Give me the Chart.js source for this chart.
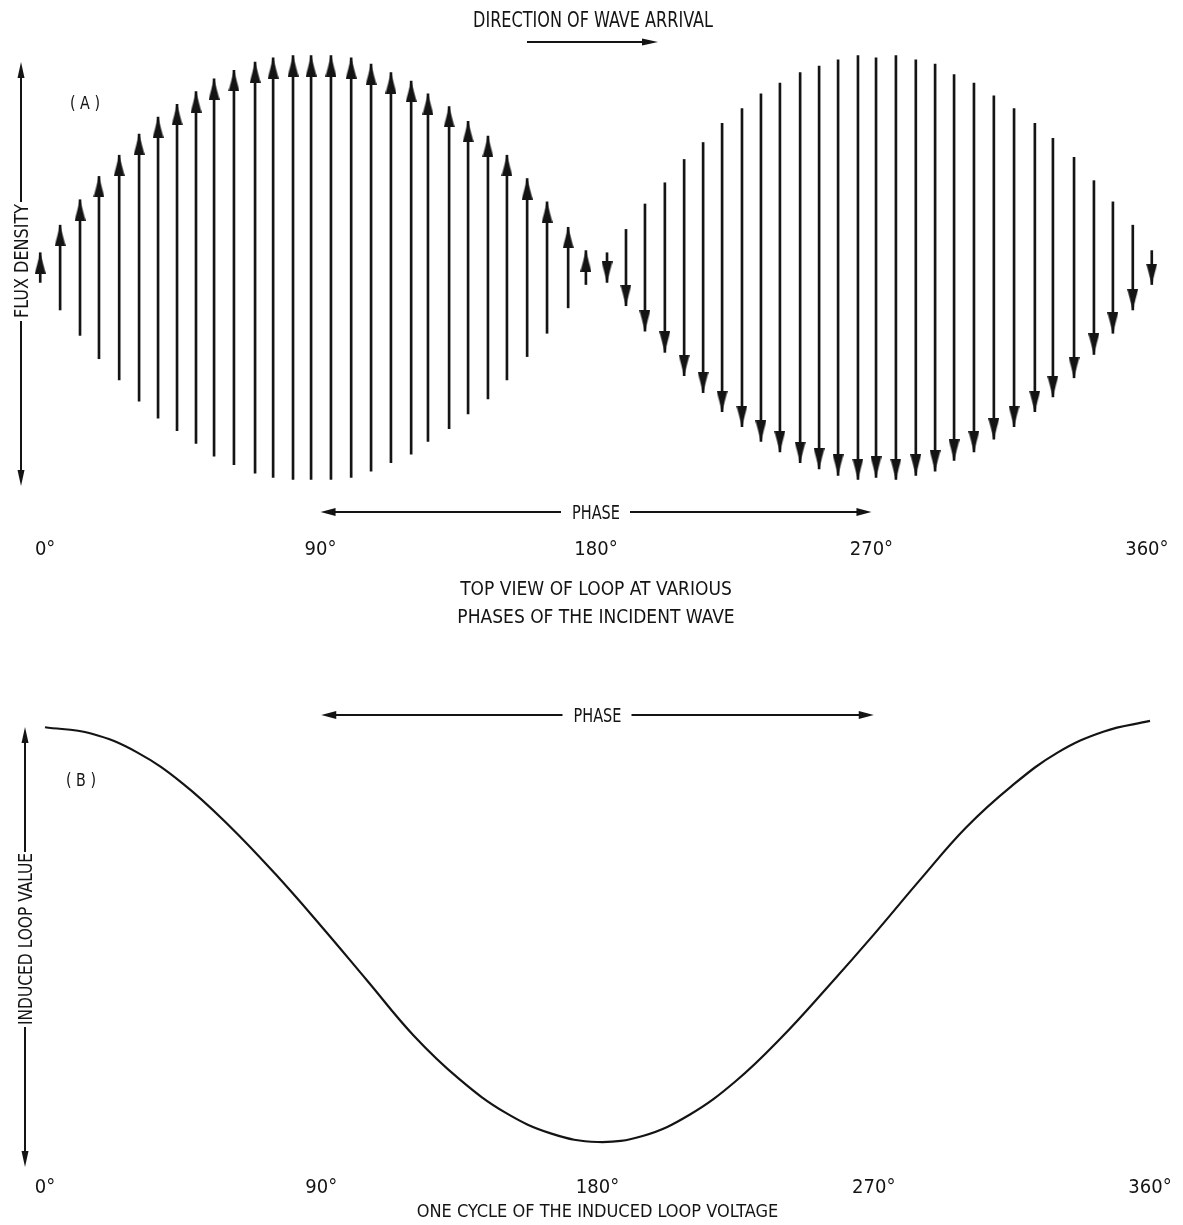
<!DOCTYPE html>
<html>
<head>
<meta charset="utf-8">
<script src="https://cdn.jsdelivr.net/npm/chart.js@4.4.1/dist/chart.umd.min.js"></script>
<style>
  html, body { margin: 0; padding: 0; background: #fff; }
  #wrap { position: relative; width: 1183px; height: 1225px; }
  canvas { position: absolute; left: 0; }
  #flux { top: 0; }
  #loop { top: 640px; }
</style>
</head>
<body>
<div id="wrap">
  <canvas id="flux" width="1183" height="640"></canvas>
  <canvas id="loop" width="1183" height="585"></canvas>
</div>
<script>
// (A) flux density arrows, phase in degrees
const arrowPhase = [-1.6, 4.9, 11.4, 17.6, 24.2, 30.7, 36.9, 43.1, 49.3, 55.2,
  61.7, 68.6, 74.5, 81.0, 86.9, 93.4, 100.0, 106.5, 113.0, 119.6,
  125.1, 132.0, 138.2, 144.7, 150.9, 157.5, 164.0, 170.9, 176.7, 183.6,
  189.8, 196.0, 202.5, 208.8, 215.0, 221.2, 227.7, 233.9, 240.1, 246.7,
  252.9, 259.1, 265.6, 271.5, 278.0, 284.5, 290.8, 297.0, 303.5, 310.0,
  316.6, 323.4, 329.3, 336.2, 342.7, 348.9, 355.4, 361.6]
const fluxDensity = [0.07, 0.20, 0.32, 0.43, 0.53, 0.63, 0.71, 0.77, 0.83, 0.89,
  0.93, 0.97, 0.99, 1.00, 1.00, 1.00, 0.99, 0.96, 0.92, 0.88,
  0.82, 0.76, 0.69, 0.62, 0.53, 0.42, 0.31, 0.19, 0.08, -0.07,
  -0.18, -0.30, -0.40, -0.51, -0.59, -0.68, -0.75, -0.82, -0.87, -0.92,
  -0.95, -0.98, -1.00, -0.99, -1.00, -0.98, -0.96, -0.91, -0.87, -0.81,
  -0.75, -0.68, -0.61, -0.52, -0.41, -0.31, -0.20, -0.08]

// (B) induced loop voltage
const loopPhase = [0, 15, 30, 45, 60, 75, 90, 105, 120, 135, 150, 165, 180,
  195, 210, 225, 240, 255, 270, 285, 300, 315, 330, 345, 360]
const loopVoltage = [0.98, 0.95, 0.86, 0.71, 0.51, 0.28, 0.03, -0.23, -0.49, -0.70, -0.86, -0.96, -1.00,
  -0.97, -0.87, -0.71, -0.50, -0.26, -0.01, 0.25, 0.50, 0.70, 0.86, 0.96, 1.01]

const degreeTicks = [0, 90, 180, 270, 360]
const captionA = ['TOP VIEW OF LOOP AT VARIOUS', 'PHASES OF THE INCIDENT WAVE']
const captionB = 'ONE CYCLE OF THE INDUCED LOOP VOLTAGE'

const INK = '#141414'
const FONT = "'Liberation Sans Narrow', 'DejaVu Sans Condensed', 'DejaVu Sans', sans-serif"

/* arrowhead used as point style, tip sits at the point centre */
function makeHead(w, len) {
    let c = document.createElement('canvas')
    c.width = w
    c.height = len * 2
    let g = c.getContext('2d')
    g.fillStyle = INK
    g.beginPath()
    g.moveTo(w / 2, len)
    g.lineTo(w, len * 2)
    g.lineTo(0, len * 2)
    g.closePath()
    g.fill()
    return c
}
const headImg = makeHead(11, 21)

/* lettering squeezed to the width it has in the drawing */
function label(ctx, str, x, y, size, rotate, width) {
    ctx.save()
    ctx.translate(x, y)
    if (rotate) ctx.rotate(rotate)
    ctx.font = size + 'px ' + FONT
    let sx = width ? width / ctx.measureText(str).width : 1
    ctx.scale(sx, 1)
    ctx.fillStyle = INK
    ctx.textAlign = 'center'
    ctx.textBaseline = 'alphabetic'
    ctx.fillText(str, 0, size * 0.365)
    ctx.restore()
}

function arrow(ctx, x1, y1, x2, y2, len, half) {
    let a = Math.atan2(y2 - y1, x2 - x1)
    ctx.save()
    ctx.strokeStyle = INK
    ctx.fillStyle = INK
    ctx.lineWidth = 2
    ctx.beginPath()
    ctx.moveTo(x1, y1)
    ctx.lineTo(x2 - Math.cos(a) * len * 0.5, y2 - Math.sin(a) * len * 0.5)
    ctx.stroke()
    ctx.translate(x2, y2)
    ctx.rotate(a)
    ctx.beginPath()
    ctx.moveTo(0, 0)
    ctx.lineTo(-len, half)
    ctx.lineTo(-len, -half)
    ctx.closePath()
    ctx.fill()
    ctx.restore()
}

function phaseArrow(ctx, xl, xr, y) {
    let cx = (xl + xr) / 2
    label(ctx, 'PHASE', cx, y, 20, 0, 48)
    arrow(ctx, cx - 35, y, xl, y, 15, 4)
    arrow(ctx, cx + 34, y, xr, y, 15, 4)
}

// note: chart.js reserves the tick padding twice (above and below the labels)
function xAxis(title, titleFont, titlePad, tickPad) {
    return {
        type: 'linear', min: 0, max: 360, offset: false,
        afterBuildTicks: s => { s.ticks = degreeTicks.map(v => ({ value: v })) },
        grid: { display: false, drawTicks: false },
        border: { display: false },
        ticks: {
            callback: v => v + '°', color: INK, padding: tickPad,
            maxRotation: 0, autoSkip: false,
            font: { family: FONT, size: 20 }
        },
        title: { display: true, text: title, color: INK, font: titleFont, padding: titlePad }
    }
}

/* ---------- (A) ---------- */
const decorA = {
    id: 'decorA',
    afterDraw(chart) {
        const { ctx, scales: { x } } = chart
        label(ctx, 'DIRECTION OF WAVE ARRIVAL', 593, 19, 21, 0, 240)
        arrow(ctx, 527, 42, 658, 42, 16, 3.5)
        arrow(ctx, 21, 202, 21, 62, 16, 3.5)
        label(ctx, 'FLUX DENSITY', 21, 261, 20, -Math.PI / 2, 114)
        arrow(ctx, 21, 321, 21, 486, 16, 3.5)
        label(ctx, '( A )', 85, 102, 18, 0, 30)
        phaseArrow(ctx, x.getPixelForValue(90), x.getPixelForValue(270), 512)
    }
}

let xA = xAxis(captionA, { family: FONT, size: 19, lineHeight: 1.474 }, { top: 6, bottom: 8 }, 8)
xA.min = -2
xA.max = 362

new Chart(document.querySelector('#flux').getContext('2d'), {
    type: 'bar',
    data: {
        datasets: [
            {
                type: 'scatter',
                order: 0,
                data: arrowPhase.map((p, i) => ({ x: p, y: fluxDensity[i] })),
                pointStyle: headImg,
                pointRadius: 6,
                pointRotation: c => (c.raw && c.raw.y < 0 ? 180 : 0),
                clip: false
            },
            {
                type: 'bar',
                order: 1,
                data: arrowPhase.map((p, i) => ({ x: p, y: [-Math.abs(fluxDensity[i]), Math.abs(fluxDensity[i])] })),
                backgroundColor: INK,
                barThickness: 2,
                borderWidth: 0,
                clip: false
            }
        ]
    },
    options: {
        responsive: false,
        animation: false,
        layout: { autoPadding: false, padding: { top: 45, left: 39, right: 30, bottom: 0 } },
        plugins: { legend: { display: false }, tooltip: { enabled: false } },
        scales: {
            x: xA,
            y: { display: false, min: -1.238, max: 1.05 }
        }
    },
    plugins: [decorA]
})

/* ---------- (B) ---------- */
const decorB = {
    id: 'decorB',
    afterDraw(chart) {
        const { ctx, scales: { x } } = chart
        arrow(ctx, 25, 212, 25, 87, 16, 3.5)
        label(ctx, 'INDUCED LOOP VALUE', 25, 299, 20, -Math.PI / 2, 172)
        arrow(ctx, 25, 387, 25, 527, 16, 3.5)
        label(ctx, '( B )', 81, 139, 18, 0, 30)
        phaseArrow(ctx, x.getPixelForValue(90), x.getPixelForValue(270), 75)
    }
}

new Chart(document.querySelector('#loop').getContext('2d'), {
    type: 'line',
    data: {
        datasets: [{
            data: loopPhase.map((p, i) => ({ x: p, y: loopVoltage[i] })),
            borderColor: INK,
            borderWidth: 2.2,
            tension: 0.4,
            pointRadius: 0,
            fill: false,
            clip: false
        }]
    },
    options: {
        responsive: false,
        animation: false,
        layout: { autoPadding: false, padding: { top: 60, left: 45, right: 33, bottom: 0 } },
        plugins: { legend: { display: false }, tooltip: { enabled: false } },
        scales: {
            x: xAxis(captionB, { family: FONT, size: 18, lineHeight: 1.2 }, { top: 0, bottom: 2 }, 2),
            y: { display: false, min: -1.15, max: 1.11 }
        }
    },
    plugins: [decorB]
})
</script>
</body>
</html>
